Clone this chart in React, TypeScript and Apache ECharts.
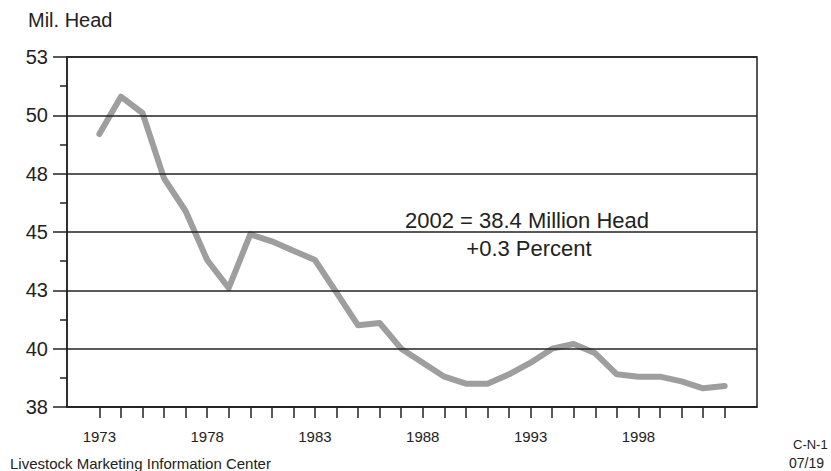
import React, { useEffect, useRef } from "react";
import * as echarts from "echarts";

const years: number[] = [
  1973, 1974, 1975, 1976, 1977, 1978, 1979, 1980, 1981, 1982,
  1983, 1984, 1985, 1986, 1987, 1988, 1989, 1990, 1991, 1992,
  1993, 1994, 1995, 1996, 1997, 1998, 1999, 2000, 2001, 2002,
];
const calfCrop: number[] = [
  49.2, 50.8, 50.1, 47.3, 45.9, 43.8, 42.6, 44.9, 44.6, 44.2,
  43.8, 42.4, 41.0, 41.1, 40.0, 39.4, 38.8, 38.5, 38.5, 38.9,
  39.4, 40.0, 40.2, 39.8, 38.9, 38.8, 38.8, 38.6, 38.3, 38.4,
];
const labelYears: number[] = [1973, 1978, 1983, 1988, 1993, 1998];
const yTicks: number[] = [37.5, 40, 42.5, 45, 47.5, 50, 52.5];

const FONT = "'Liberation Sans', Arial, sans-serif";
const INK = "#222";

export default function App() {
  const ref = useRef<HTMLDivElement>(null);
  useEffect(() => {
    if (!ref.current) return;
    const chart = echarts.init(ref.current, undefined, { renderer: "svg" });
    chart.setOption({
      animation: false,
      backgroundColor: "#fff",
      grid: {
        left: 67,
        right: 74,
        top: 57,
        bottom: 64,
        show: true,
        borderColor: INK,
        borderWidth: 1.5,
        backgroundColor: "transparent",
      },
      xAxis: {
        type: "value",
        min: 1971.5,
        max: 2003.5,
        z: 5,
        axisLine: { show: true, lineStyle: { color: INK, width: 1.5 } },
        axisTick: {
          show: true,
          inside: false,
          length: 11,
          customValues: years,
          lineStyle: { color: INK, width: 1.5 },
        },
        axisLabel: {
          customValues: labelYears,
          formatter: (v: number) => String(v),
          fontFamily: FONT,
          fontSize: 15,
          color: INK,
          margin: 22,
        },
        splitLine: { show: false },
      },
      yAxis: {
        type: "value",
        min: yTicks[0],
        max: yTicks[yTicks.length - 1],
        interval: 2.5,
        z: 5,
        axisLine: { show: true, lineStyle: { color: INK, width: 1.5 } },
        axisTick: { show: true, inside: false, length: 14, lineStyle: { color: INK, width: 1.5 } },
        minorTick: { show: true, splitNumber: 2, length: 7, lineStyle: { color: INK, width: 1.5 } },
        axisLabel: {
          formatter: (v: number) => String(Math.round(v)),
          fontFamily: FONT,
          fontSize: 20,
          color: INK,
          margin: 19,
        },
        splitLine: { show: true, lineStyle: { color: INK, width: 1.5 } },
      },
      series: [
        {
          type: "line",
          z: 1,
          data: years.map((y, i) => [y, calfCrop[i]]),
          showSymbol: false,
          lineStyle: { color: "#9e9e9e", width: 6, cap: "round", join: "round" },
        },
      ],
      graphic: [
        {
          type: "text",
          left: 28,
          top: 10,
          style: { text: "Mil. Head", font: `20px ${FONT}`, fill: INK },
        },
        {
          type: "text",
          x: 527,
          y: 220,
          z: 10,
          style: {
            text: "2002 = 38.4 Million Head",
            font: `22px ${FONT}`,
            fill: INK,
            align: "center",
            verticalAlign: "middle",
          },
        },
        {
          type: "text",
          x: 529,
          y: 248,
          z: 10,
          style: {
            text: "+0.3 Percent",
            font: `22px ${FONT}`,
            fill: INK,
            align: "center",
            verticalAlign: "middle",
          },
        },
        {
          type: "text",
          x: 10,
          y: 463,
          style: {
            text: "Livestock Marketing Information Center",
            font: `15px ${FONT}`,
            fill: INK,
            verticalAlign: "middle",
          },
        },
        {
          type: "text",
          x: 793,
          y: 444,
          style: { text: "C-N-1", font: `13px ${FONT}`, fill: INK, verticalAlign: "middle" },
        },
        {
          type: "text",
          x: 789,
          y: 463,
          style: { text: "07/19", font: `14px ${FONT}`, fill: INK, verticalAlign: "middle" },
        },
      ],
    });
    return () => chart.dispose();
  }, []);
  return (
    <div
      ref={ref}
      style={{ position: "fixed", left: 0, top: 0, width: 831, height: 471, overflow: "hidden" }}
    />
  );
}
